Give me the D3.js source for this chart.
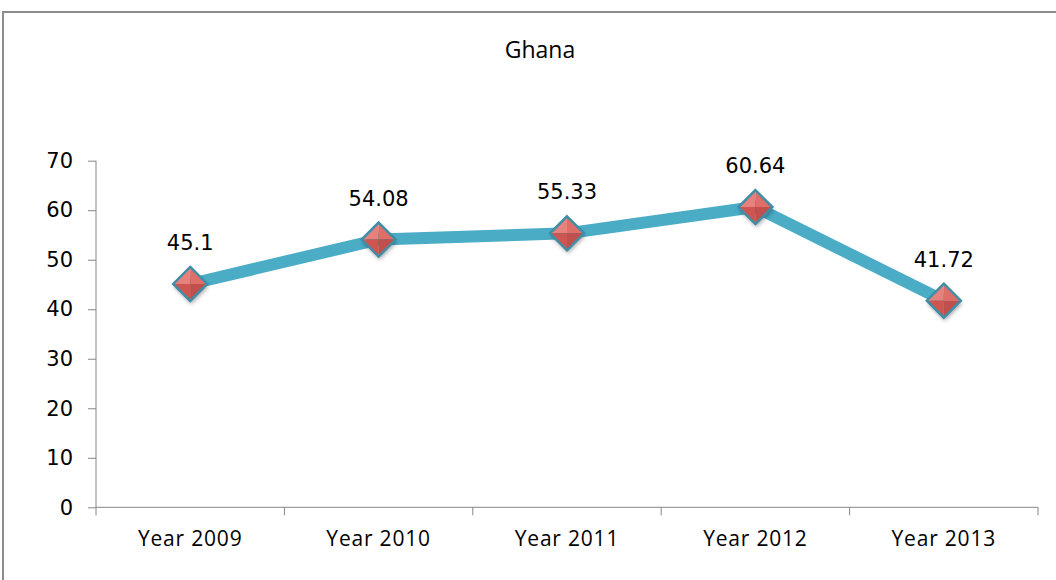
<!DOCTYPE html>
<html>
<head>
<meta charset="utf-8">
<script src="https://cdn.jsdelivr.net/npm/d3@7"></script>
<style>
  body { margin: 0; background: #fff; }
  svg { display: block; }
</style>
</head>
<body>
<div id="chart"></div>
<script>
var years = ["Year 2009", "Year 2010", "Year 2011", "Year 2012", "Year 2013"];
var values = [45.1, 54.08, 55.33, 60.64, 41.72];
var yTicks = [0, 10, 20, 30, 40, 50, 60, 70];

var w = 1056, h = 580;
var plotL = 96, plotR = 1038, plotT = 160.7, plotB = 507.3;

var svg = d3.select("#chart").append("svg")
  .attr("width", w)
  .attr("height", h);

// chart area frame
svg.append("rect")
  .attr("x", 3).attr("y", 12)
  .attr("width", 1200).attr("height", 800)
  .attr("fill", "none")
  .attr("stroke", "#8c8c8c")
  .attr("stroke-width", 2);

svg.append("text")
  .attr("x", 540).attr("y", 58)
  .attr("text-anchor", "middle")
  .attr("font-family", "Open Sans")
  .attr("font-size", 23)
  .attr("font-weight", 500)
  .attr("fill", "#000")
  .text("Ghana");

var x = d3.scaleBand().domain(years).range([plotL, plotR]);
var y = d3.scaleLinear().domain([0, 70]).range([plotB, plotT]);

// y axis
var yAxis = svg.append("g")
  .attr("transform", "translate(" + plotL + ",0)")
  .call(d3.axisLeft(y).tickValues(yTicks).tickSize(8).tickPadding(15));
yAxis.selectAll("path, line").attr("stroke", "#868686");
yAxis.select(".domain").attr("d", "M0," + plotB + "V" + plotT);
yAxis.selectAll("text")
  .attr("font-family", "DejaVu Sans")
  .attr("font-size", 21)
  .attr("fill", "#000");

// x axis
var xAxis = svg.append("g")
  .attr("transform", "translate(0," + plotB + ")")
  .call(d3.axisBottom(x).tickSize(0).tickPadding(24));
xAxis.select(".domain").attr("stroke", "#868686").attr("d", "M" + plotL + ",0H" + plotR);
xAxis.selectAll("text")
  .attr("font-family", "Open Sans")
  .attr("font-size", 21)
  .attr("letter-spacing", 0.8)
  .attr("fill", "#000");
xAxis.selectAll(".sep")
  .data(years.concat([null]))
  .enter().append("line")
  .attr("class", "sep")
  .attr("x1", (d, i) => plotL + i * x.step())
  .attr("x2", (d, i) => plotL + i * x.step())
  .attr("y1", 0).attr("y2", 8)
  .attr("stroke", "#868686");

var pts = years.map((d, i) => ({ cat: d, v: values[i] }));

var line = d3.line()
  .x((d) => x(d.cat) + x.bandwidth() / 2)
  .y((d) => y(d.v));

svg.append("path")
  .datum(pts)
  .attr("d", line)
  .attr("fill", "none")
  .attr("stroke", "#4bacc6")
  .attr("stroke-width", 12)
  .attr("stroke-linejoin", "round");

// shadow blur for markers
var defs = svg.append("defs");
var f = defs.append("filter").attr("id", "shd").attr("x", "-50%").attr("y", "-50%").attr("width", "200%").attr("height", "200%");
f.append("feGaussianBlur").attr("stdDeviation", 2);

var r = 17;
var markers = svg.append("g").selectAll(".m")
  .data(pts)
  .enter().append("g")
  .attr("class", "m")
  .attr("transform", (d) => "translate(" + (x(d.cat) + x.bandwidth() / 2) + "," + y(d.v) + ")");

markers.append("path")
  .attr("d", "M0," + (-r) + "L" + r + ",0L0," + r + "L" + (-r) + ",0Z")
  .attr("transform", "translate(1,3)")
  .attr("fill", "rgba(0,0,0,0.35)")
  .attr("filter", "url(#shd)");

var facets = [
  { d: "M0,0L0," + (-r) + "L" + (-r) + ",0Z", c: "#e6817d" },
  { d: "M0,0L0," + (-r) + "L" + r + ",0Z", c: "#df6e69" },
  { d: "M0,0L" + (-r) + ",0L0," + r + "Z", c: "#cf5550" },
  { d: "M0,0L" + r + ",0L0," + r + "Z", c: "#c0504d" }
];
facets.forEach(function (fc) {
  markers.append("path").attr("d", fc.d).attr("fill", fc.c);
});
markers.append("path")
  .attr("d", "M0," + (-r) + "L" + r + ",0L0," + r + "L" + (-r) + ",0Z")
  .attr("fill", "none")
  .attr("stroke", "#3f8ea6")
  .attr("stroke-width", 2.5);

svg.append("g").selectAll(".lbl")
  .data(pts)
  .enter().append("text")
  .attr("class", "lbl")
  .attr("x", (d) => x(d.cat) + x.bandwidth() / 2)
  .attr("y", (d) => y(d.v) - 34)
  .attr("text-anchor", "middle")
  .attr("font-family", "DejaVu Sans")
  .attr("font-size", 21)
  .attr("fill", "#000")
  .text((d) => d.v);
</script>
</body>
</html>
